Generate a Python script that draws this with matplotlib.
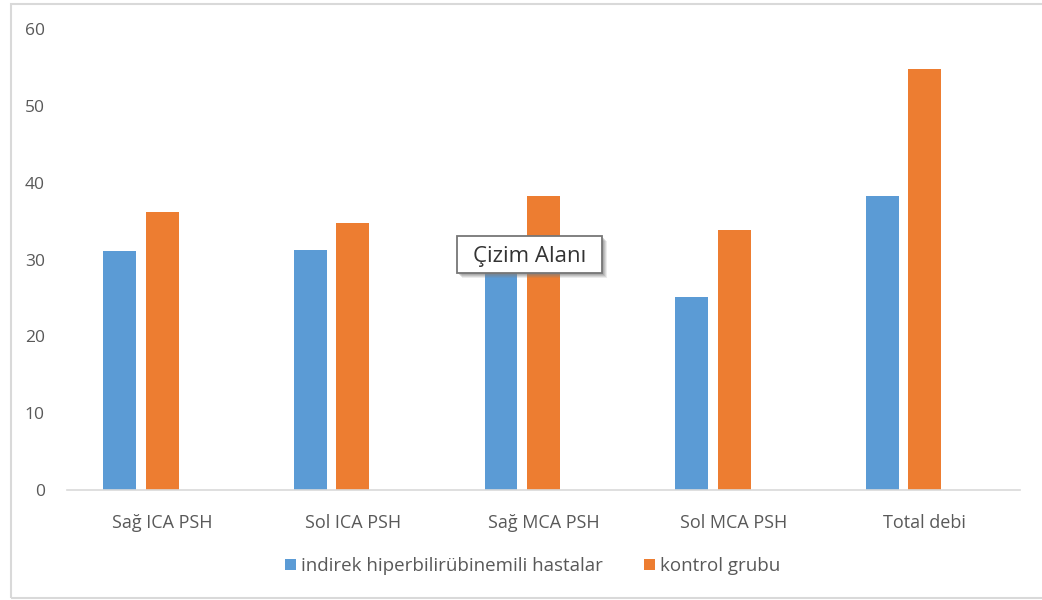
import matplotlib.pyplot as plt
import matplotlib.patches as mpatches
import numpy as np

plt.rcParams['font.family'] = ['Open Sans', 'DejaVu Sans']

categories = ['Sağ ICA PSH', 'Sol ICA PSH', 'Sağ MCA PSH', 'Sol MCA PSH', 'Total debi']
hasta = [31.1, 31.3, 30.0, 25.1, 38.3]
kontrol = [36.2, 34.7, 38.3, 33.8, 54.8]
series_names = ['indirek hiperbilirübinemili hastalar', 'kontrol grubu']
yticks = [0, 10, 20, 30, 40, 50, 60]

blue = '#5B9BD5'
orange = '#ED7D31'
gray_txt = '#595959'

W, H = 1042, 600
fig = plt.figure(figsize=(W / 100, H / 100), dpi=100)
# chart area frame
fig.patches.append(mpatches.Rectangle((11 / W, 2 / H), 1.1, 594 / H, transform=fig.transFigure,
                                      fill=False, edgecolor='#d9d9d9', linewidth=1.5))

ax = fig.add_axes([67 / W, 110 / H, 953 / W, 461 / H])
x = np.arange(len(categories))
step = 0.223
w = 0.173
ax.bar(x - step, hasta, w, color=blue, edgecolor='none', label=series_names[0])
ax.bar(x, kontrol, w, color=orange, edgecolor='none', label=series_names[1])

ax.set_xlim(-0.5, len(categories) - 0.5)
ax.set_ylim(0, 60)
ax.set_yticks(yticks)
ax.set_xticks(x)
ax.set_xticklabels(categories)
for s in ['top', 'right', 'left']:
    ax.spines[s].set_visible(False)
ax.spines['bottom'].set_color('#d9d9d9')
ax.spines['bottom'].set_linewidth(1.2)
ax.tick_params(axis='both', length=0, colors=gray_txt, labelsize=12.5)
ax.tick_params(axis='x', labelsize=13, pad=17)
ax.tick_params(axis='y', pad=16)

ax.legend(loc='center', bbox_to_anchor=((533 - 67) / 953, -76 / 461), ncol=2, frameon=False,
          fontsize=13.5, labelcolor=gray_txt, handlelength=0.55, handleheight=0.55,
          handletextpad=0.3, columnspacing=2.2)

# hover tooltip over the plot area
for k, a in [(5, 0.15), (4, 0.2), (3, 0.25), (2, 0.3)]:
    fig.patches.append(mpatches.Rectangle(((457 + k) / W, 1 - (273 + k) / H), 145 / W, 37 / H,
                                          transform=fig.transFigure, facecolor='#808080',
                                          edgecolor='none', alpha=a))
fig.patches.append(mpatches.Rectangle((457 / W, 1 - 273 / H), 145 / W, 37 / H, transform=fig.transFigure,
                                      facecolor='white', edgecolor='#767676', linewidth=1.3))
fig.text(529.5 / W, 1 - 256 / H, 'Çizim Alanı', fontsize=16, color='#333333',
         va='center', ha='center')

fig.savefig('out.png', dpi=100)
